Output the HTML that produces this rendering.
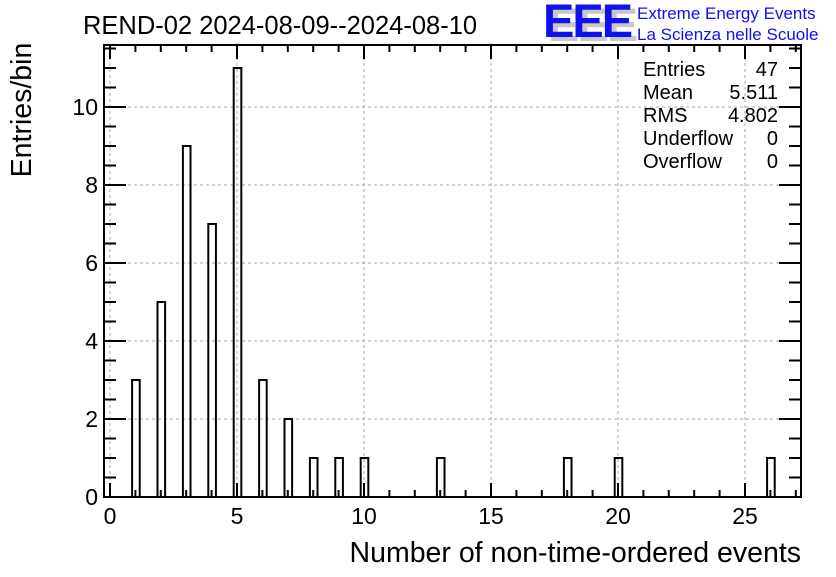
<!DOCTYPE html>
<html><head><meta charset="utf-8"><style>
body{margin:0;background:#fff;width:836px;height:572px;overflow:hidden}
svg{font-family:"Liberation Sans",sans-serif}
</style></head><body>
<svg id="c" width="836" height="572">
<text x="83" y="34" font-size="25.5">REND-02 2024-08-09--2024-08-10</text>
<g>
<text x="548" y="41" font-size="47" font-weight="bold" fill="#c8c8c8" letter-spacing="-2">EEE</text>
<text x="543" y="37" font-size="47" font-weight="bold" fill="#1010f0" letter-spacing="-2">EEE</text>
<text x="637" y="19" font-size="17" fill="#1010f0">Extreme Energy Events</text>
<text x="637" y="40" font-size="17" fill="#1010f0">La Scienza nelle Scuole</text>
</g>
<text transform="translate(31,110) rotate(-90)" text-anchor="middle" font-size="28.5">Entries/bin</text>
<text x="801" y="562" text-anchor="end" font-size="28.5">Number of non-time-ordered events</text>
<g id="grid"></g><g id="bars"></g><g id="axes"></g>
<g font-size="20">
<text x="643" y="76">Entries</text><text x="778" y="76" text-anchor="end">47</text>
<text x="643" y="99">Mean</text><text x="778" y="99" text-anchor="end">5.511</text>
<text x="643" y="122">RMS</text><text x="778" y="122" text-anchor="end">4.802</text>
<text x="643" y="145">Underflow</text><text x="778" y="145" text-anchor="end">0</text>
<text x="643" y="168">Overflow</text><text x="778" y="168" text-anchor="end">0</text>
</g>
</svg>
<script>
const binCenters=[1,2,3,4,5,6,7,8,9,10,13,18,20,26];
const counts=[3,5,9,7,11,3,2,1,1,1,1,1,1,1];
const xTicks=[0,5,10,15,20,25];
const yTicks=[0,2,4,6,8,10];
const NS="http://www.w3.org/2000/svg";
const L=104,R=801,T=45,B=497;
const X0=110,XS=25.4,YS=39;
const sx=v=>X0+v*XS, sy=v=>B-v*YS;
const xmax=(R-X0)/XS, ymax=(B-T)/YS;
function mk(p,t,a){const e=document.createElementNS(NS,t);for(const k in a)e.setAttribute(k,a[k]);document.getElementById(p).appendChild(e);return e;}
for(const v of xTicks){const g=mk('grid','line',{x1:sx(v),x2:sx(v),y1:T,y2:B,stroke:'#aaa','stroke-dasharray':'3,3'});

}
for(const v of yTicks){if(v===0)continue;const g=mk('grid','line',{x1:L,x2:R,y1:sy(v),y2:sy(v),stroke:'#aaa','stroke-dasharray':'3,3'});

}
binCenters.forEach((c,i)=>{const r=mk('bars','rect',{x:sx(c-0.13),y:sy(counts[i]),width:0.3*XS,height:counts[i]*YS,fill:'none',stroke:'#000','stroke-width':2});

});
const f=mk('axes','rect',{x:L,y:T,width:R-L,height:B-T,fill:'none',stroke:'#000','stroke-width':2});


for(let v=0;v<=xmax;v+=1){const maj=v%5===0,h=maj?14:7;
mk('axes','line',{x1:sx(v),x2:sx(v),y1:B,y2:B-h,stroke:'#000','stroke-width':2});
mk('axes','line',{x1:sx(v),x2:sx(v),y1:T,y2:T+h,stroke:'#000','stroke-width':2});}
for(let v=0;v<=ymax;v+=0.5){const maj=v%2===0,w=maj?22:12;
mk('axes','line',{x1:L,x2:L+w,y1:sy(v),y2:sy(v),stroke:'#000','stroke-width':2});
mk('axes','line',{x1:R,x2:R-w,y1:sy(v),y2:sy(v),stroke:'#000','stroke-width':2});}
for(const v of xTicks){const t=mk('axes','text',{x:sx(v),y:524,'text-anchor':'middle','font-size':23});t.textContent=v;

}
for(const v of yTicks){const t=mk('axes','text',{x:98,y:sy(v)+8,'text-anchor':'end','font-size':23});t.textContent=v;

}
</script>
</body></html>
